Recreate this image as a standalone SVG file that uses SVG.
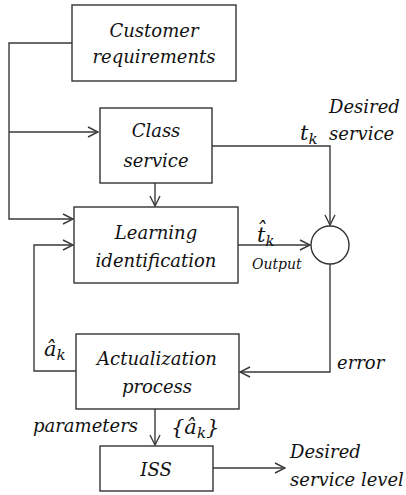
<svg xmlns="http://www.w3.org/2000/svg" width="406" height="495" viewBox="0 0 406 495">
  <style>
    .box { fill: #ffffff; stroke: #333333; stroke-width: 1.4; }
    .wire { fill: none; stroke: #3a3a3a; stroke-width: 1.4; }
    .t { font-family: "DejaVu Serif", "Liberation Serif", serif; font-style: italic; font-size: 18px; fill: #111111; }
    .mid { text-anchor: middle; }
    .small { font-size: 14px; }
    .math { font-size: 21px; }
    .sub { font-size: 15px; }
  </style>
  <defs>
    <marker id="arrow" viewBox="0 0 12 12" refX="11" refY="6" markerWidth="12" markerHeight="12" markerUnits="userSpaceOnUse" orient="auto">
      <path d="M1,1 L11,6 L1,11" fill="none" stroke="#3a3a3a" stroke-width="1.4"/>
    </marker>
  </defs>
  <rect width="406" height="495" fill="#ffffff"/>

  <!-- connectors -->
  <g id="connectors">
    <polyline class="wire" points="72,43 9,43 9,219 73,219" marker-end="url(#arrow)"/>
    <polyline class="wire" points="9,132 98,132" marker-end="url(#arrow)"/>
    <polyline class="wire" points="155,183 155,206" marker-end="url(#arrow)"/>
    <polyline class="wire" points="212,146 330,146 330,225" marker-end="url(#arrow)"/>
    <polyline class="wire" points="238,245 310,245" marker-end="url(#arrow)"/>
    <polyline class="wire" points="330,264 330,372 240,372" marker-end="url(#arrow)"/>
    <polyline class="wire" points="76,371 34,371 34,245 73,245" marker-end="url(#arrow)"/>
    <polyline class="wire" points="155,409 155,445" marker-end="url(#arrow)"/>
    <polyline class="wire" points="213,468 285,468" marker-end="url(#arrow)"/>
  </g>

  <!-- nodes -->
  <g id="customer-requirements">
    <rect class="box" x="72" y="5" width="164" height="76"/>
    <text class="t mid" x="154" y="37">Customer</text>
    <text class="t mid" x="154" y="63">requirements</text>
  </g>
  <g id="class-service">
    <rect class="box" x="100" y="108" width="112" height="75"/>
    <text class="t mid" x="156" y="137">Class</text>
    <text class="t mid" x="156" y="167">service</text>
  </g>
  <g id="learning-identification">
    <rect class="box" x="74" y="207" width="164" height="76"/>
    <text class="t mid" x="156" y="239">Learning</text>
    <text class="t mid" x="156" y="267">identification</text>
  </g>
  <g id="comparator">
    <circle class="box" cx="330" cy="245" r="19"/>
  </g>
  <g id="actualization-process">
    <rect class="box" x="76" y="334" width="163" height="75"/>
    <text class="t mid" x="157" y="365">Actualization</text>
    <text class="t mid" x="157" y="393">process</text>
  </g>
  <g id="iss">
    <rect class="box" x="100" y="446" width="113" height="45"/>
    <text class="t mid" x="156" y="476">ISS</text>
  </g>

  <!-- labels -->
  <g id="labels">
    <text class="t" x="329" y="113">Desired</text>
    <text class="t" x="329" y="140">service</text>
    <text class="t math" x="300" y="140">t<tspan class="sub" dy="4">k</tspan></text>
    <text class="t math" x="257" y="242">t̂<tspan class="sub" dy="4">k</tspan></text>
    <text class="t small" x="252" y="269">Output</text>
    <text class="t" x="337" y="369">error</text>
    <text class="t math" x="44" y="356">â<tspan class="sub" dy="4">k</tspan></text>
    <text class="t" x="33" y="432">parameters</text>
    <text class="t math" x="171" y="434">{â<tspan class="sub" dy="4">k</tspan><tspan dy="-4">}</tspan></text>
    <text class="t" x="290" y="458">Desired</text>
    <text class="t" x="290" y="486">service level</text>
  </g>
</svg>
